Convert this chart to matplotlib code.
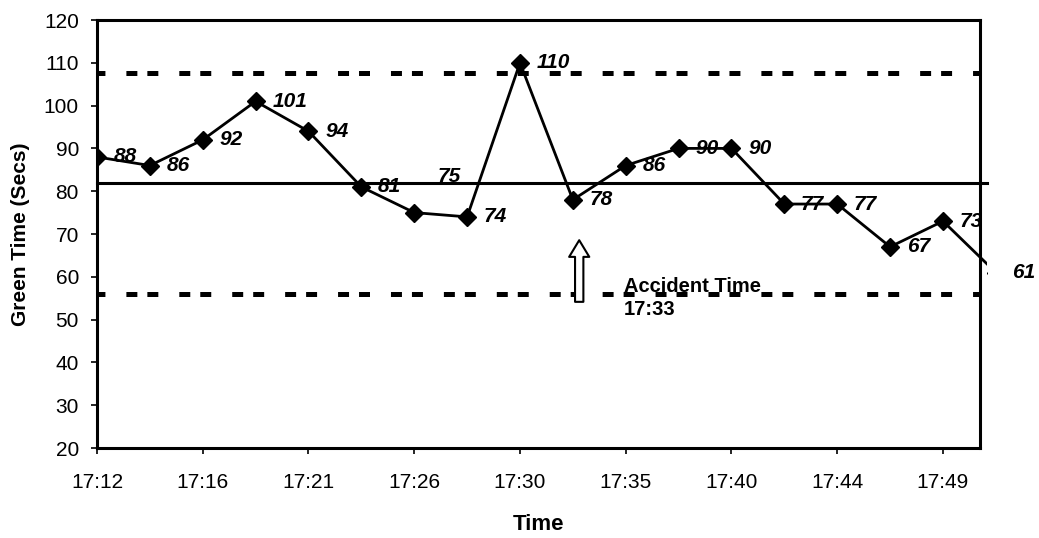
import matplotlib
matplotlib.use("Agg")
import matplotlib.pyplot as plt
from matplotlib.transforms import Bbox, TransformedBbox, blended_transform_factory
import numpy as np

plt.rcParams['font.family'] = ['Liberation Sans', 'DejaVu Sans']
plt.rcParams['lines.scale_dashes'] = False

# ---- data ----
times = ["17:12", "17:14", "17:16", "17:19", "17:21", "17:23", "17:26", "17:28", "17:30",
         "17:33", "17:35", "17:37", "17:40", "17:42", "17:44", "17:47", "17:49", "17:51"]
green_time = [88, 86, 92, 101, 94, 81, 75, 74, 110, 78, 86, 90, 90, 77, 77, 67, 73, 61]
mean_line = 81.9
upper_limit = 107.6
lower_limit = 55.9
accident_label = "Accident Time\n17:33"
accident_index = 9
y_ticks = [20, 30, 40, 50, 60, 70, 80, 90, 100, 110, 120]

x = np.arange(len(times))

fig = plt.figure(figsize=(10.39, 5.38), dpi=100)
ax = fig.add_axes([97/1039, 1-448/538, (980-97)/1039, (448-20)/538])

x_right = 16.7
x_ext = 16.83
ax.set_xlim(0, x_right)
ax.set_ylim(20, 120)

# dashed control limits
for lim in (upper_limit, lower_limit):
    ax.plot([0, x_right], [lim, lim], color='black', lw=3.6,
            linestyle=(2.2, (7.9, 15.1, 7.9, 7.2)), dash_capstyle='butt')

# mean line (extends slightly past the right spine)
ax.plot([0, x_ext], [mean_line, mean_line], color='black', lw=2.2, clip_on=False, zorder=3)

# data line
line, = ax.plot(x, green_time, color='black', lw=2.0, marker='D', ms=9,
                markerfacecolor='black', markeredgecolor='black', zorder=4)
trans = blended_transform_factory(ax.transData, ax.transAxes)
line.set_clip_box(TransformedBbox(Bbox([[0, 0], [x_ext, 1]]), trans))

# data labels
for i, v in enumerate(green_time):
    off = (12, 0)
    if v == 75 and i == 6:
        off = (17, 26)
    ax.annotate(str(v), (x[i], v), xytext=off, textcoords='offset points',
                ha='left', va='center', fontsize=15, fontweight='bold', fontstyle='italic',
                annotation_clip=False, zorder=5)

# accident arrow
ax.annotate('', xy=(accident_index + 0.12, 69.2), xytext=(accident_index + 0.12, 53.5),
            arrowprops=dict(arrowstyle='simple,head_length=1.2,head_width=1.45,tail_width=0.6',
                            facecolor='white', edgecolor='black', lw=1.5), zorder=6)
ax.text(accident_index + 0.97, 60.0, accident_label, ha='left', va='top', fontsize=14.5,
        fontweight='bold', linespacing=1.3, zorder=6)

# axes styling
ax.set_xticks(x[::2])
ax.set_xticklabels(times[::2])
ax.set_yticks(y_ticks)
ax.tick_params(axis='x', direction='out', length=4, width=1.2, pad=14, labelsize=15)
ax.tick_params(axis='y', direction='out', length=4, width=1.2, pad=9, labelsize=15)
for s in ax.spines.values():
    s.set_linewidth(2.2)

ax.set_xlabel("Time", fontsize=16, fontweight='bold', labelpad=16)
ax.set_ylabel("Green Time (Secs)", fontsize=15, fontweight='bold', labelpad=10)

fig.savefig("out.png", dpi=100)
